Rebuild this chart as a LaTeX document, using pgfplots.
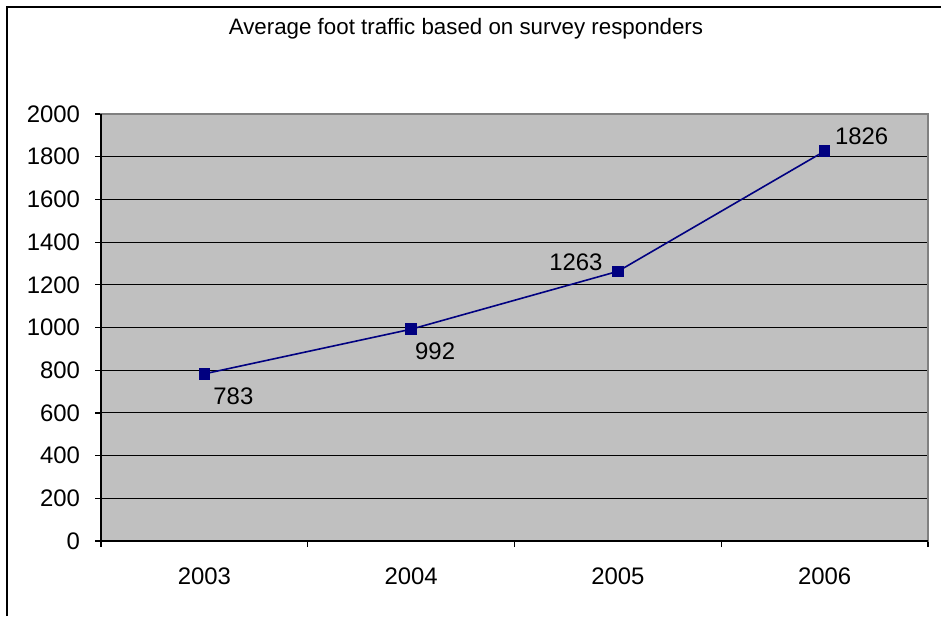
\documentclass[border=0pt]{standalone}
\usepackage{pgfplots}
\pgfplotsset{compat=1.18}
\usepackage{fontspec}
\setmainfont{Liberation Sans}
\definecolor{plotgray}{HTML}{C0C0C0}
\definecolor{navyline}{HTML}{000080}
\definecolor{frameg}{HTML}{808080}
\pgfplotstableread{
x y
0 783
1 992
2 1263
3 1826
}\traffic
\begin{document}
\begin{tikzpicture}[x=1bp,y=1bp]
\path[use as bounding box] (0,0) rectangle (470.5,308);
\draw[line width=1bp] (3.25,0) -- (3.25,304.5) -- (470.5,304.5);
\node[font=\fontsize{11.2}{13}\selectfont] at (233,293.5) {Average foot traffic based on survey responders};
\begin{axis}[
  at={(50.5bp,37.5bp)}, anchor=south west,
  scale only axis, width=413.5bp, height=213.5bp,
  xmin=-0.5, xmax=3.5, ymin=0, ymax=2000,
  xtick={-0.5,0.5,1.5,2.5,3.5}, xticklabels={},
  extra x ticks={0,1,2,3},
  extra x tick labels={2003,2004,2005,2006},
  extra x tick style={major tick length=0pt, grid=none, xticklabel style={yshift=-10bp}},
  ytick={0,200,...,2000},
  ymajorgrids,
  grid style={black, line width=0.5bp},
  axis background/.style={fill=plotgray},
  axis line style={draw=frameg, line width=0.6bp},
  tick align=outside, tick pos=left,
  major tick length=3bp,
  tick style={black, line width=0.6bp},
  ticklabel style={font=\fontsize{12}{14}\selectfont},
  yticklabel style={xshift=-4bp},
  /pgf/number format/assume math mode=true,
  /pgf/number format/1000 sep={},
  clip=false,
]
\addplot[color=navyline, line width=0.8bp, mark=square*, mark size=2.5bp, mark options={solid, fill=navyline}] table[x=x,y=y] {\traffic};
\draw[black, line width=0.7bp] (rel axis cs:0,1) -- (rel axis cs:0,0) -- (rel axis cs:1,0);
\node[font=\fontsize{12}{14}\selectfont] at (axis cs:0,783) [xshift=14.5bp, yshift=-11bp] {783};
\node[font=\fontsize{12}{14}\selectfont] at (axis cs:1,992) [xshift=12bp, yshift=-11bp] {992};
\node[font=\fontsize{12}{14}\selectfont] at (axis cs:2,1263) [xshift=-21bp, yshift=4.5bp] {1263};
\node[font=\fontsize{12}{14}\selectfont] at (axis cs:3,1826) [xshift=18.5bp, yshift=7.5bp] {1826};
\end{axis}
\end{tikzpicture}
\end{document}
